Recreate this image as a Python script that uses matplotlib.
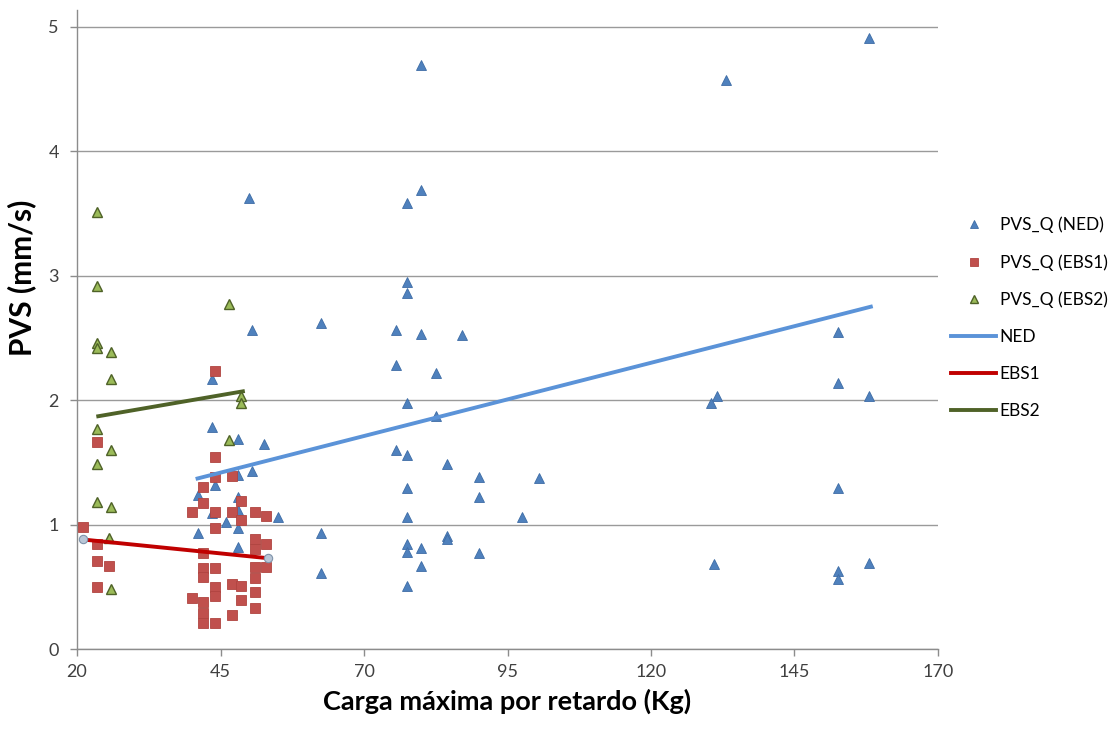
import numpy as np
import matplotlib
matplotlib.use("Agg")
import matplotlib.pyplot as plt

plt.rcParams['font.family'] = ['Lato', 'DejaVu Sans']

# NED points (Carga maxima, PVS)
ned_x = [158, 133, 80, 80, 77.5, 50, 77.5, 77.5, 75.5, 80, 87, 75.5, 82.5, 77.5,
         82.5, 75.5, 77.5, 84.5, 90, 100.5, 90, 77.5, 77.5, 97.5, 84.5, 84.5,
         77.5, 77.5, 80, 90, 80, 77.5, 152.5, 152.5, 131.5, 130.5, 158, 152.5,
         131, 152.5, 152.5, 158, 50.5, 62.5, 43.5, 43.5, 48, 52.5, 50.5, 48,
         44, 41, 48, 48, 43.5, 46, 55, 48, 41, 62.5, 48, 62.5]
ned_y = [4.91, 4.57, 4.69, 3.69, 3.58, 3.62, 2.95, 2.86, 2.56, 2.53, 2.52, 2.28,
         2.22, 1.98, 1.87, 1.60, 1.56, 1.49, 1.38, 1.37, 1.22, 1.29, 1.06, 1.06,
         0.91, 0.88, 0.84, 0.78, 0.81, 0.77, 0.67, 0.51, 2.55, 2.14, 2.03, 1.98,
         2.03, 1.29, 0.68, 0.63, 0.56, 0.69, 2.56, 2.62, 2.17, 1.78, 1.69, 1.65,
         1.43, 1.40, 1.32, 1.24, 1.22, 1.12, 1.09, 1.02, 1.06, 0.97, 0.93, 0.93,
         0.82, 0.61]

# EBS1 points
ebs1_x = [44, 23.5, 44, 44, 47, 42, 42, 48.5, 40, 44, 47, 48.5, 51, 53, 44, 21,
          23.5, 23.5, 25.5, 23.5, 51, 51, 53, 42, 51, 53, 42, 44, 42, 51, 44,
          47, 48.5, 44, 40, 42, 48.5, 51, 51, 47, 42, 42, 44]
ebs1_y = [2.23, 1.66, 1.54, 1.38, 1.39, 1.30, 1.17, 1.19, 1.10, 1.10, 1.10, 1.04,
          1.10, 1.07, 0.97, 0.98, 0.84, 0.71, 0.67, 0.50, 0.88, 0.80, 0.84, 0.77,
          0.66, 0.66, 0.65, 0.65, 0.58, 0.57, 0.50, 0.52, 0.51, 0.43, 0.41, 0.38,
          0.39, 0.46, 0.33, 0.27, 0.29, 0.21, 0.21]

# EBS2 points
ebs2_x = [23.5, 23.5, 23.5, 23.5, 26, 26, 46.5, 48.5, 48.5, 23.5, 46.5, 26,
          23.5, 23.5, 26, 25.5, 26]
ebs2_y = [3.51, 2.92, 2.46, 2.42, 2.39, 2.17, 2.77, 2.03, 1.98, 1.77, 1.68, 1.60,
          1.49, 1.18, 1.14, 0.89, 0.48]

# trend lines (end points)
ned_line_x = [41, 158.3]
ned_line_y = [1.37, 2.75]
ebs1_line_x = [21, 53.2]
ebs1_line_y = [0.88, 0.73]
ebs2_line_x = [23.7, 48.9]
ebs2_line_y = [1.87, 2.07]

x_ticks = [20, 45, 70, 95, 120, 145, 170]
y_ticks = [0, 1, 2, 3, 4, 5]

fig = plt.figure(figsize=(11.16, 7.29), dpi=100)
ax = fig.add_axes([0.069, 0.1097, 0.7715, 0.876])

ax.set_xlim(20, 170)
ax.set_ylim(0, 5.13)

ax.plot(ned_x, ned_y, linestyle='none', marker='^', markersize=7,
        color='#4F81BD', markeredgecolor='#3E6CA6', markeredgewidth=0.6,
        label='PVS_Q (NED)', zorder=3)
ax.plot(ebs1_x, ebs1_y, linestyle='none', marker='s', markersize=7.5,
        color='#C0504D', markeredgecolor='#B04440', markeredgewidth=0.6,
        label='PVS_Q (EBS1)', zorder=4)
ax.plot(ebs2_x, ebs2_y, linestyle='none', marker='^', markersize=7,
        color='#9BBB59', markeredgecolor='#4F6228', markeredgewidth=1.0,
        label='PVS_Q (EBS2)', zorder=5)

ax.plot(ned_line_x, ned_line_y, color='#5B93D8', linewidth=2.8, label='NED', zorder=6)
ax.plot(ebs1_line_x, ebs1_line_y, color='#C00000', linewidth=2.8, label='EBS1', zorder=6)
ax.plot(ebs1_line_x, ebs1_line_y, linestyle='none', marker='o', markersize=6,
        color='#B9C6D6', markeredgecolor='#7F93AA', markeredgewidth=0.8, zorder=7)
ax.plot(ebs2_line_x, ebs2_line_y, color='#4F6228', linewidth=2.8, label='EBS2', zorder=6)

ax.set_xticks(x_ticks)
ax.set_yticks(y_ticks)
ax.yaxis.grid(True, color='#9A9A9A', linewidth=1.0)
ax.set_axisbelow(True)
for s in ['top', 'right']:
    ax.spines[s].set_visible(False)
for s in ['left', 'bottom']:
    ax.spines[s].set_color('#8C8C8C')
    ax.spines[s].set_linewidth(1.0)
ax.tick_params(axis='both', colors='#8C8C8C', labelcolor='#404040',
               labelsize=13, length=5, width=1.0)
ax.tick_params(axis='x', pad=6)
ax.tick_params(axis='y', pad=8)

ax.set_xlabel('Carga máxima por retardo (Kg)', fontsize=19.5, fontweight='bold', labelpad=6)
ax.set_ylabel('PVS (mm/s)', fontsize=21.5, fontweight='bold')
ax.yaxis.set_label_coords(-0.048, 0.582)

fig.legend(loc='center left', bbox_to_anchor=(0.846, 0.564), frameon=False,
           fontsize=12.5, handlelength=2.6, handletextpad=0.2,
           labelspacing=1.2, borderaxespad=0, markerscale=0.85)

fig.savefig('out.png', dpi=100)
